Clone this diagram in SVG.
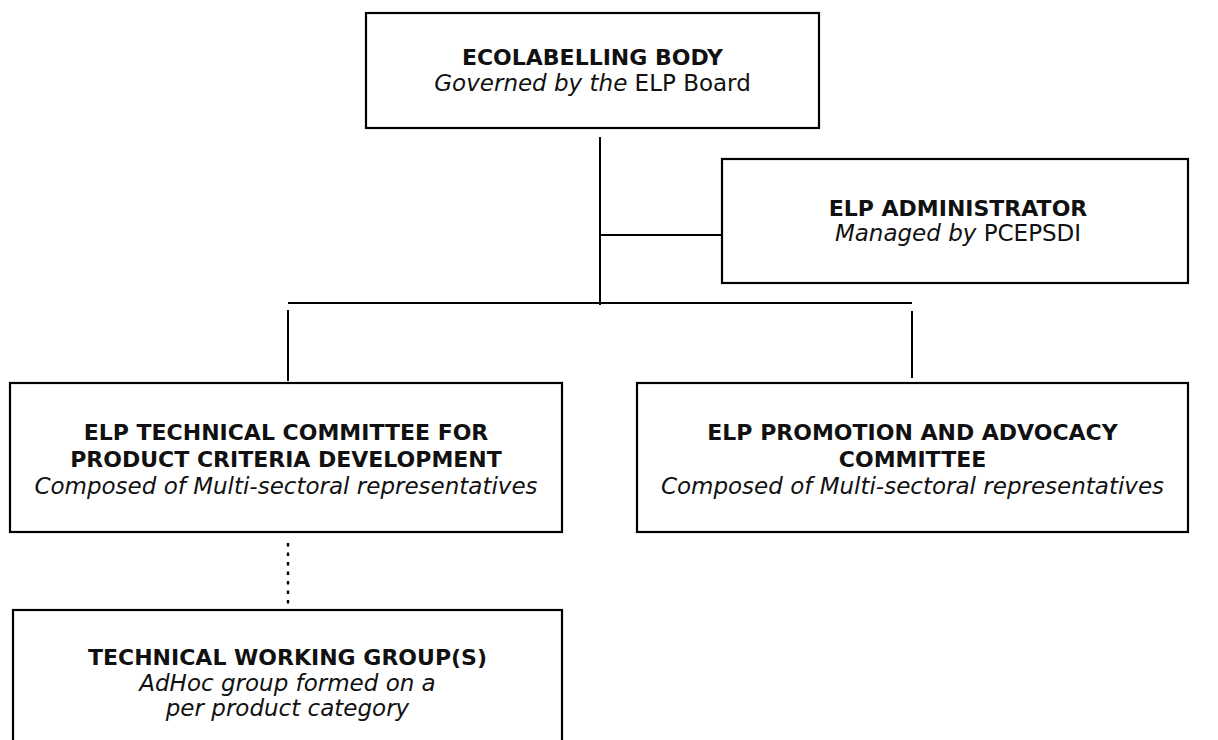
<svg xmlns="http://www.w3.org/2000/svg" width="1218" height="740" viewBox="0 0 1218 740">
<style>
.box{fill:#fff;stroke:#000;stroke-width:2.2}
.ln{stroke:#000;stroke-width:2;fill:none}
.dash{stroke:#000;stroke-width:2.4;fill:none;stroke-dasharray:3.5 6}
text{font-family:"DejaVu Sans","Liberation Sans",sans-serif;font-size:23px;fill:#111;text-anchor:middle}
.b{font-weight:bold;font-size:22px}
.i{font-style:italic}
</style>
<rect width="1218" height="740" fill="#fff"/>
<g id="connectors">
<line class="ln" x1="600" y1="137" x2="600" y2="305"/>
<line class="ln" x1="600" y1="235" x2="722" y2="235"/>
<line class="ln" x1="288" y1="303" x2="912" y2="303"/>
<line class="ln" x1="288" y1="310" x2="288" y2="381"/>
<line class="ln" x1="912" y1="311" x2="912" y2="378"/>
<line class="dash" x1="288" y1="543" x2="288" y2="604"/>
</g>
<g id="ecolabelling-body">
<rect class="box" x="366" y="13" width="453" height="115"/>
<text class="b" x="592.5" y="65">ECOLABELLING BODY</text>
<text x="592.5" y="91"><tspan class="i">Governed by the</tspan> ELP Board</text>
</g>
<g id="elp-administrator">
<rect class="box" x="722" y="159" width="466" height="124"/>
<text class="b" x="958" y="216">ELP ADMINISTRATOR</text>
<text x="958" y="241"><tspan class="i">Managed by</tspan> PCEPSDI</text>
</g>
<g id="technical-committee">
<rect class="box" x="10" y="383" width="552" height="149"/>
<text class="b" x="286" y="440">ELP TECHNICAL COMMITTEE FOR</text>
<text class="b" x="286" y="467">PRODUCT CRITERIA DEVELOPMENT</text>
<text class="i" x="286" y="494">Composed of Multi-sectoral representatives</text>
</g>
<g id="promotion-committee">
<rect class="box" x="637" y="383" width="551" height="149"/>
<text class="b" x="912.5" y="440">ELP PROMOTION AND ADVOCACY</text>
<text class="b" x="912.5" y="467">COMMITTEE</text>
<text class="i" x="912.5" y="494">Composed of Multi-sectoral representatives</text>
</g>
<g id="technical-working-group">
<rect class="box" x="13" y="610" width="549" height="135"/>
<text class="b" x="287.5" y="665">TECHNICAL WORKING GROUP(S)</text>
<text class="i" x="287.5" y="691">AdHoc group formed on a</text>
<text class="i" x="287.5" y="716">per product category</text>
</g>
</svg>
